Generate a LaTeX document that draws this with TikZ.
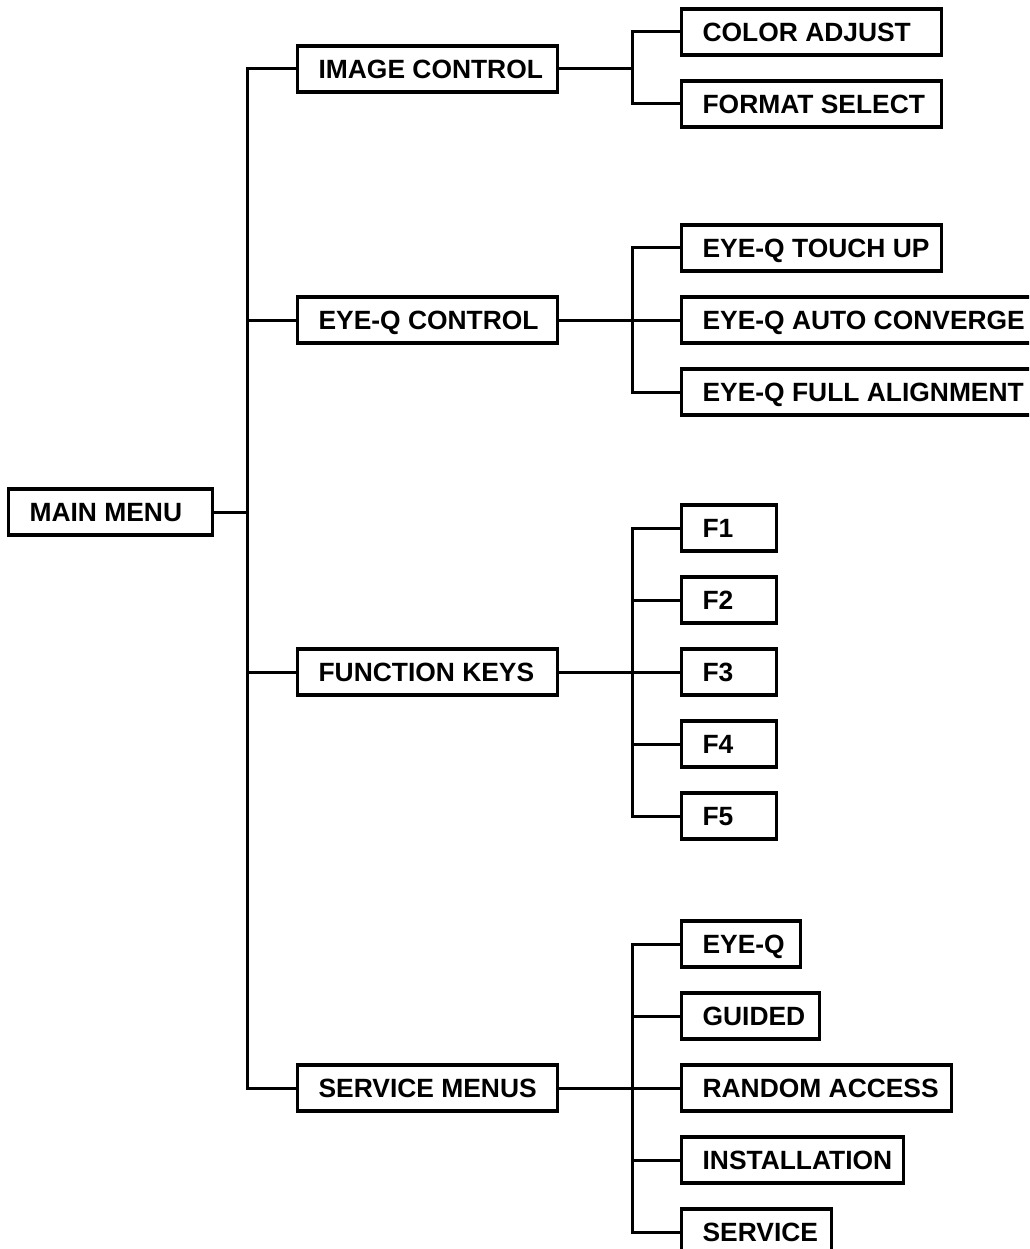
\documentclass[tikz,border=0pt]{standalone}
\usepackage{fontspec}
\setmainfont{Liberation Sans}
\begin{document}
\begin{tikzpicture}[x=1pt,y=-1pt,
  box/.style={draw, line width=3.2pt, anchor=west, inner xsep=21pt, inner ysep=13.5pt,
    text height=19pt, text depth=0pt, font=\fontsize{26.4}{30}\selectfont\bfseries},
  conn/.style={line width=3pt, line join=miter}]
\clip (0,0) rectangle (1029,1249);
\fill[white] (0,0) rectangle (1029,1249);
\coordinate (T) at (247,0);
\coordinate (B) at (632,0);
% level 0
\node[box] (mm) at (7,512) {\makebox[162pt][l]{MAIN MENU}};
% level 1
\node[box] (ic) at (296,69) {\makebox[218pt][l]{IMAGE CONTROL}};
\node[box] (ec) at (296,320) {\makebox[218pt][l]{EYE-Q CONTROL}};
\node[box] (fk) at (296,672) {\makebox[218pt][l]{FUNCTION KEYS}};
\node[box] (sm) at (296,1088) {\makebox[218pt][l]{SERVICE MENUS}};
% level 2
\node[box] (ca) at (680,32) {\makebox[218pt][l]{COLOR ADJUST}};
\node[box] (fs) at (680,104) {\makebox[218pt][l]{FORMAT SELECT}};
\node[box] (tu) at (680,248) {\makebox[218pt][l]{EYE-Q TOUCH UP}};
\node[box] (ac) at (680,320) {\makebox[328pt][l]{EYE-Q AUTO CONVERGE}};
\node[box] (fa) at (680,392) {\makebox[328pt][l]{EYE-Q FULL ALIGNMENT}};
\node[box] (f1) at (680,528) {\makebox[53pt][l]{F1}};
\node[box] (f2) at (680,600) {\makebox[53pt][l]{F2}};
\node[box] (f3) at (680,672) {\makebox[53pt][l]{F3}};
\node[box] (f4) at (680,744) {\makebox[53pt][l]{F4}};
\node[box] (f5) at (680,816) {\makebox[53pt][l]{F5}};
\node[box] (eq) at (680,944) {\makebox[77pt][l]{EYE-Q}};
\node[box] (gd) at (680,1016) {\makebox[96pt][l]{GUIDED}};
\node[box] (ra) at (680,1088) {\makebox[228pt][l]{RANDOM ACCESS}};
\node[box] (in) at (680,1160) {\makebox[180pt][l]{INSTALLATION}};
\node[box] (sv) at (680,1232) {\makebox[108pt][l]{SERVICE}};
% trunk
\draw[conn] (ic.west) -- (ic.west -| T) |- (sm.west);
\draw[conn] (ec.west) -- (ec.west -| T);
\draw[conn] (fk.west) -- (fk.west -| T);
\draw[conn] (mm.east) -- (mm.east -| T);
% branches
\draw[conn] (ca.west) -- (ca.west -| B) |- (fs.west);
\draw[conn] (ic.east) -- (ic.east -| B);
\draw[conn] (tu.west) -- (tu.west -| B) |- (fa.west);
\draw[conn] (ec.east) -- (ac.west);
\draw[conn] (f1.west) -- (f1.west -| B) |- (f5.west);
\draw[conn] (fk.east) -- (f3.west);
\foreach \n in {f2,f4} \draw[conn] (\n.west) -- (\n.west -| B);
\draw[conn] (eq.west) -- (eq.west -| B) |- (sv.west);
\draw[conn] (sm.east) -- (ra.west);
\foreach \n in {gd,in} \draw[conn] (\n.west) -- (\n.west -| B);
\end{tikzpicture}
\end{document}
